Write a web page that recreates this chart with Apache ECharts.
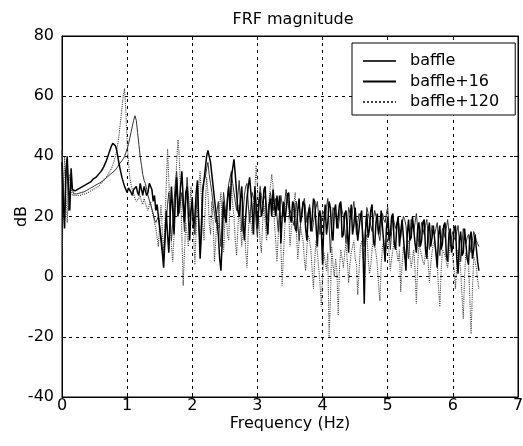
<!DOCTYPE html>
<html>
<head>
<meta charset="utf-8">
<script src="https://cdn.jsdelivr.net/npm/echarts@6/dist/echarts.min.js"></script>
<style>html,body{margin:0;padding:0;background:#fff}#c{width:523px;height:446px}</style>
</head>
<body>
<div id="c"></div>
<script>
// Frequency spacing (Hz) of the sampled spectra
const df = 0.02;
const xTicks = [0, 1, 2, 3, 4, 5, 6, 7];
const yTicks = [-40, -20, 0, 20, 40, 60, 80];
const seriesNames = ['baffle', 'baffle+16', 'baffle+120'];

// dB values, one every 0.02 Hz from 0 to 6.4 Hz (10 values = 0.2 Hz per row)
const baffle = [
  42, 30, 20, 33, 36, 22, 25, 31, 29, 27.5,
  27.5, 27.5, 27.5, 27.7, 28, 28, 28, 28.2, 28.5, 28.7,
  29, 29.2, 29.5, 29.7, 30, 30.2, 30.5, 30.7, 31, 31.2,
  31.5, 31.7, 32, 32.5, 33, 33.2, 33.5, 34, 34.5, 34.7,
  35, 35.5, 36, 36.7, 37.5, 38, 38.5, 39.2, 40, 41.2,
  42.5, 44, 46, 48, 50, 52, 53.5, 52, 48, 44,
  40, 37, 34, 32, 31, 29, 27, 25.5, 24, 22.5,
  21, 19, 18, 19, 20, 17, 14, 10, 6, 12,
  18, 24, 28, 20, 12, 18, 25, 31, 35, 27,
  21, 25, 28, 22, 15, 24, 33, 27, 20, 22,
  24, 18, 14, 22, 28, 18, 9, 20, 30, 32,
  33, 36, 38, 34, 31, 28, 24, 21, 18, 22,
  25, 16, 10, 20, 28, 24, 20, 26, 31, 33,
  35, 31, 28, 25, 22, 27, 32, 24, 15, 21,
  27, 30, 31, 24, 18, 24, 28, 26, 25, 18,
  13, 22, 30, 27, 24, 26, 27, 23, 19, 24,
  28, 25, 22, 24, 26, 20, 15, 22, 27, 24,
  20, 25, 29, 26, 23, 22, 21, 19, 17, 21,
  25, 18, 12, 17, 22, 24, 26, 22, 18, 21,
  24, 20, 15, 18, 21, 23, 25, 20, 14, 18,
  22, 21, 19, 23, 26, 17, 8, 16, 23, 22,
  21, 18, 16, 20, 24, 22, 20, 16, 11, 17,
  23, 21, 19, 22, 25, 20, 14, 18, 21, 20,
  18, 14, 10, 17, 23, 21, 19, 17, 15, 19,
  22, 20, 17, 14, 12, 17, 21, 19, 18, 21,
  23, 16, 9, 15, 20, 18, 16, 18, 19, 16,
  13, 17, 20, 19, 17, 11, 6, 13, 19, 17,
  15, 18, 21, 16, 10, 14, 18, 16, 14, 17,
  19, 14, 9, 13, 17, 16, 14, 16, 18, 12,
  7, 12, 16, 15, 13, 16, 19, 15, 10, 13,
  15, 13, 12, 15, 17, 11, 5, 11, 16, 14,
  11, 13, 14, 11, 8, 12, 15, 14, 12, 11,
  10
];
const baffle16 = [
  38, 24, 16, 35, 40, 30, 22, 36, 29, 28.5,
  28.5, 28.7, 29, 29.2, 29.5, 29.7, 30, 30.2, 30.5, 30.7,
  31, 31.2, 31.5, 32, 32.5, 32.8, 33, 33.5, 34, 34.5,
  35, 35.7, 36.5, 37.5, 38.5, 39.7, 41, 42.3, 43.5, 44.3,
  44.5, 43.5, 42, 39.5, 37, 35, 33, 31.5, 30, 29,
  28, 29.5, 30, 28, 27, 29, 29, 30, 28, 27,
  31, 29, 27, 30, 30, 27, 28, 31, 31, 29,
  25, 27, 22, 24, 20, 16, 12, 8, 3, 12,
  22, 14, 8, 20, 30, 22, 14, 26, 33, 20,
  24, 30, 35, 26, 18, 28, 30, 20, 12, 22,
  26, 16, 20, 28, 32, 18, 6, 14, 28, 32,
  36, 40, 42, 40, 38, 34, 30, 26, 22, 18,
  14, 6, 2, 12, 25, 20, 18, 26, 30, 22,
  33, 36, 39, 34, 28, 22, 20, 26, 30, 18,
  12, 20, 26, 30, 33, 28, 22, 14, 30, 24,
  16, 24, 28, 20, 22, 29, 30, 18, 14, 24,
  26, 20, 29, 24, 20, 27, 22, 27, 11, 20,
  25, 18, 22, 27, 28, 20, 18, 25, 24, 16,
  15, 22, 26, 18, 20, 25, 24, 16, 12, 21,
  23, 15, 19, 26, 25, 17, 10, 20, 22, 16,
  4, 18, 24, 14, 18, 25, 23, 15, 12, 22,
  24, 16, 20, 24, 25, 13, 14, 21, 22, 15,
  8, 19, 24, 14, 17, 23, 23, 12, 12, 20,
  22, 10, -9, 15, 21, 13, 16, 22, 24, 12,
  10, 18, 21, 14, 17, 22, 22, 11, 5, 16,
  20, 12, 14, 20, 21, 11, 9, 17, 20, 10,
  15, 19, 19, 8, 2, 14, 19, 12, 13, 20,
  20, 11, 8, 16, 18, 10, 12, 18, 19, 9,
  6, 15, 18, 10, 13, 17, 17, 8, 3, 14,
  17, 9, 11, 17, 18, 7, 5, 14, 16, 8,
  10, 16, 17, 6, 1, 12, 15, 7, 8, 16,
  16, 6, 4, 13, 15, 6, 9, 14, 14, 5,
  2
];
const baffle120 = [
  5, 25, 40, 28, 18, 30, 34, 29, 27, 27,
  27, 27, 27, 27, 27, 27.2, 27.5, 27.5, 27.5, 27.7,
  28, 28.2, 28.5, 28.7, 29, 29.2, 29.5, 29.7, 30, 30.5,
  31, 31.5, 32, 32.5, 33, 33.7, 34.5, 35.2, 36, 37.2,
  38.5, 40, 42, 44.5, 48, 52, 56, 60, 62.5, 55,
  45, 38, 33, 30.5, 29, 27.5, 26, 25, 25, 26,
  27, 25, 24, 26, 26, 23, 22, 24, 25, 22,
  20, 18, 16, 13, 10, 18, 24, 15, 8, 18,
  30, 42.5, 32, 20, 10, 5, 14, 28, 38, 45.5,
  40, 28, 14, -3, 8, 18, 14, 10, 22, 30,
  30, 14, 4, 16, 22, 30, 35, 26, 18, 12,
  24, 33, 28, 18, 14, 25, 18, 5, 12, 20,
  16, 24, 28, 14, 8, 18, 22, 14, 12, 26,
  31, 24, 20, 12, 7, 16, 24, 16, 10, 20,
  19, 8, 3, 15, 22, 18, 14, 24, 28, 37,
  30, 20, 12, 8, 18, 24, 18, 12, 20, 26,
  30, 34, 30, 18, 12, 5, 14, 22, 10, -3,
  8, 16, 24, 28, 22, 10, 16, 19, 24, 28,
  14, 6, 12, 17, 14, 12, 6, 2, 10, 14,
  12, 9, 2, -4, 6, 12, 8, 3, -2, -10,
  0, 8, 5, 2, 8, -20, -8, 10, 4, 0,
  6, 2, -13, 3, 9, 6, 3, 8, 11, 5,
  -2, 4, 8, 10, 12, 6, 4, -6, 2, 10,
  12, 6, 8, 12, 14, 6, 1, 4, 9, 12,
  12, 8, 4, -3, -8, 4, 10, 12, 7, 10,
  13, 8, 2, 6, 9, 12, 11, 8, 5, 9,
  -5, 4, 10, 6, 8, 11, 12, 7, 3, 6,
  9, 2, -9, 4, 11, 9, 7, 5, 4, 8,
  10, 5, -2, 4, 8, 11, 12, 8, 5, -4,
  -10, 2, 9, 8, 7, 5, 3, 7, 11, 9,
  6, 2, -4, 4, 9, 6, 2, -6, -14, 0,
  8, 6, 5, -7, -19, -5, 7, 5, 3, -1,
  -4
];

function pairs(arr) { return arr.map((v, i) => [+(i * df).toFixed(2), v]); }

const FONT = 'DejaVu Sans, Liberation Sans, Arial, sans-serif';
const FS = 16;
const chart = echarts.init(document.getElementById('c'), null, {renderer: 'canvas'});
const gridDash = {color: '#000', width: 1, type: [3, 4]};
const baseX = {
  type: 'value', min: xTicks[0], max: xTicks[xTicks.length - 1], interval: 1,
  axisLine: {show: true, onZero: false, lineStyle: {color: '#000', width: 1}},
  axisTick: {show: true, inside: true, length: 4, lineStyle: {color: '#000'}}
};
const baseY = {
  type: 'value', min: yTicks[0], max: yTicks[yTicks.length - 1], interval: 20,
  axisLine: {show: true, onZero: false, lineStyle: {color: '#000', width: 1}},
  axisTick: {show: true, inside: true, length: 4, lineStyle: {color: '#000'}}
};
chart.setOption({
  animation: false,
  backgroundColor: '#fff',
  textStyle: {fontFamily: FONT, color: '#000'},
  title: {
    text: 'FRF magnitude', left: 288, top: 6, textAlign: 'center',
    textStyle: {fontFamily: FONT, fontSize: FS, lineHeight: 18, fontWeight: 'normal', color: '#000'}
  },
  legend: {
    data: seriesNames, orient: 'vertical', left: 352, top: 43,
    padding: [10, 16, 5, 10], itemGap: 4.5, itemWidth: 33, itemHeight: 14,
    backgroundColor: '#fff', borderColor: '#000', borderWidth: 1,
    itemStyle: {opacity: 0},
    textStyle: {fontFamily: FONT, fontSize: FS, color: '#000', padding: [0, 0, 0, 9]}
  },
  grid: {left: 62, right: 5, top: 36, bottom: 49, containLabel: false, outerBoundsMode: 'none',
         show: true, borderColor: '#000', borderWidth: 1, backgroundColor: '#fff'},
  xAxis: [
    Object.assign({}, baseX, {
      position: 'bottom',
      name: 'Frequency (Hz)', nameLocation: 'middle', nameGap: 19, nameMoveOverlap: false,
      nameTextStyle: {fontFamily: FONT, fontSize: FS, color: '#000', verticalAlign: 'top'},
      axisLabel: {fontFamily: FONT, fontSize: FS, color: '#000', margin: 1},
      splitLine: {show: true, lineStyle: gridDash}
    }),
    Object.assign({}, baseX, {position: 'top', axisLabel: {show: false}, splitLine: {show: false}})
  ],
  yAxis: [
    Object.assign({}, baseY, {
      position: 'left',
      name: 'dB', nameLocation: 'middle', nameGap: 32, nameRotate: 90, nameMoveOverlap: false,
      nameTextStyle: {fontFamily: FONT, fontSize: FS, color: '#000'},
      axisLabel: {fontFamily: FONT, fontSize: FS, color: '#000', margin: 8},
      splitLine: {show: true, lineStyle: gridDash}
    }),
    Object.assign({}, baseY, {position: 'right', axisLabel: {show: false}, splitLine: {show: false}})
  ],
  series: [
    {name: seriesNames[0], type: 'line', data: pairs(baffle), showSymbol: false, symbol: 'none',
     lineStyle: {color: '#333', width: 1, type: 'solid'}, itemStyle: {color: '#333'}, z: 3},
    {name: seriesNames[1], type: 'line', data: pairs(baffle16), showSymbol: false, symbol: 'none',
     lineStyle: {color: '#000', width: 1.5, type: 'solid'}, itemStyle: {color: '#000'}, z: 4},
    {name: seriesNames[2], type: 'line', data: pairs(baffle120), showSymbol: false, symbol: 'none',
     lineStyle: {color: '#444', width: 1.1, type: 'dotted'}, itemStyle: {color: '#444'}, z: 2}
  ]
});
</script>
</body>
</html>
